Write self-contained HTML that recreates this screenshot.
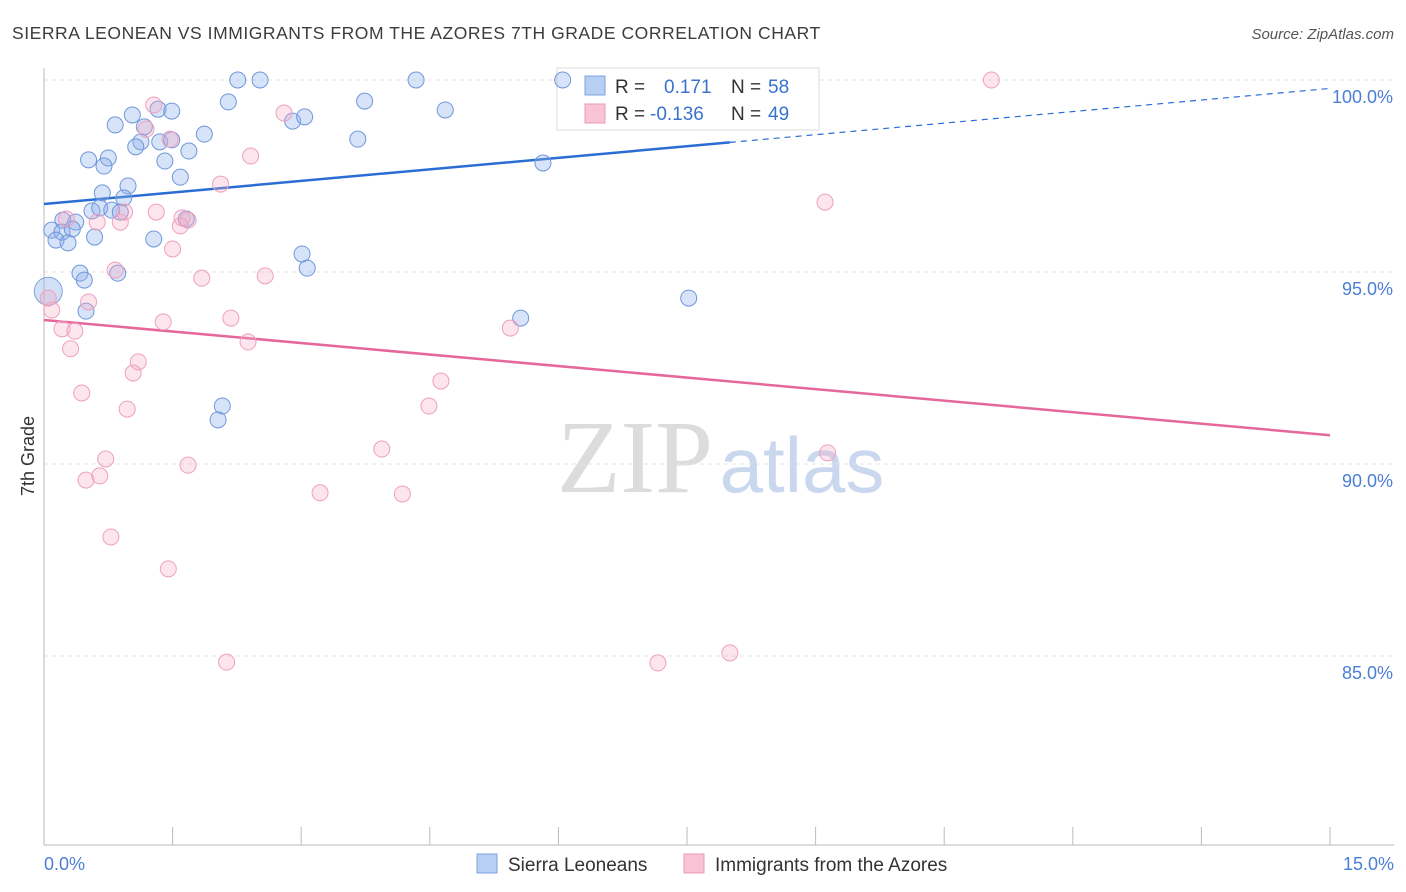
<!DOCTYPE html>
<html><head><meta charset="utf-8">
<style>
body{margin:0;background:#fff;font-family:"Liberation Sans",sans-serif;}
#wrap{position:relative;width:1406px;height:892px;overflow:hidden;}
</style></head>
<body>
<div id="wrap">
<svg id="chart" width="1406" height="892" xmlns="http://www.w3.org/2000/svg">
<text x="12" y="39" font-size="17.5" fill="#3c3c3c" letter-spacing="0.55">SIERRA LEONEAN VS IMMIGRANTS FROM THE AZORES 7TH GRADE CORRELATION CHART</text>
<text x="1394" y="39" font-size="15" fill="#555" font-style="italic" text-anchor="end">Source: ZipAtlas.com</text>
<text x="34" y="456" font-size="18" fill="#333" text-anchor="middle" transform="rotate(-90 34 456)">7th Grade</text>
<g>
<text x="635" y="492" font-size="104" fill="#dcdcdc" font-family="Liberation Serif,serif" text-anchor="middle">ZIP</text>
<text x="802" y="492" font-size="78" fill="#c9d8ef" text-anchor="middle">atlas</text>
</g>
<g id="grid"></g><g id="axes"></g>
<g>
<rect x="557" y="68" width="262" height="62" fill="#fff" stroke="#ddd"/>
<rect x="585" y="76" width="20" height="19" fill="#b7cff3" stroke="#7fa3dd"/>
<rect x="585" y="104" width="20" height="19" fill="#f8c4d5" stroke="#e99ab5"/>
<text x="615" y="93" font-size="19" fill="#333">R = </text><text x="664" y="93" font-size="19" fill="#3a72d0">0.171</text>
<text x="731" y="93" font-size="19" fill="#333">N = </text><text x="768" y="93" font-size="19" fill="#3a72d0">58</text>
<text x="615" y="120" font-size="19" fill="#333">R = </text><text x="650" y="120" font-size="19" fill="#3a72d0">-0.136</text>
<text x="731" y="120" font-size="19" fill="#333">N = </text><text x="768" y="120" font-size="19" fill="#3a72d0">49</text>
</g>
<g id="trends"></g><g id="points"></g>
<g>
<rect x="477" y="854" width="20" height="19" fill="#b7cff3" stroke="#7fa3dd"/>
<text x="508" y="871" font-size="19" fill="#333">Sierra Leoneans</text>
<rect x="684" y="854" width="20" height="19" fill="#f8c4d5" stroke="#e99ab5"/>
<text x="715" y="871" font-size="19" fill="#333">Immigrants from the Azores</text>
</g>
</svg>
</div>
<script>
const blueX=[2.26,2.52,4.34,6.05,2.15,3.74,4.68,1.03,1.33,1.49,0.83,1.17,2.90,3.04,1.87,1.13,1.07,1.35,1.49,3.66,1.69,0.52,0.75,0.70,1.41,5.82,1.59,0.98,0.68,0.93,0.56,0.65,0.79,0.89,1.66,0.22,0.37,0.09,0.21,0.33,0.59,0.14,0.28,1.28,3.01,3.07,0.42,0.47,0.86,7.52,0.49,5.56,2.08,2.03];
const blueY=[100.0,100.0,100.0,100.0,99.43,99.45,99.22,99.09,99.24,99.19,98.83,98.78,98.93,99.04,98.59,98.39,98.26,98.39,98.44,98.46,98.15,97.92,97.97,97.76,97.89,97.84,97.47,97.24,97.06,96.93,96.59,96.67,96.61,96.56,96.38,96.35,96.30,96.09,96.04,96.12,95.91,95.83,95.76,95.86,95.47,95.10,94.97,94.79,94.97,94.32,93.98,93.80,91.51,91.15];
const pinkX=[11.05,1.28,1.47,1.19,2.80,2.41,2.06,1.31,1.68,0.62,0.89,0.26,0.94,1.59,1.50,9.11,0.83,1.84,2.58,0.05,0.52,2.18,1.39,0.21,0.36,5.44,2.38,0.31,1.10,1.04,4.63,0.44,0.97,4.49,3.94,9.14,0.72,1.68,0.65,0.49,3.22,4.18,0.78,1.45,2.13,7.16,8.00,0.09,1.61];
const pinkY=[100.0,99.35,98.46,98.72,99.14,98.02,97.29,96.56,96.35,96.30,96.30,96.38,96.56,96.20,95.60,96.82,95.05,94.84,94.90,94.32,94.22,93.80,93.70,93.52,93.46,93.54,93.18,93.00,92.66,92.37,92.16,91.85,91.43,91.51,90.39,90.29,90.13,89.97,89.69,89.58,89.25,89.22,88.10,87.27,84.84,84.82,85.08,94.01,96.41];
const yTicks=[100,95,90,85];
const yTickLabels=["100.0%","95.0%","90.0%","85.0%"];
const xTickLabels=["0.0%","15.0%"];
const blueTrend=[96.77,99.78];
const pinkTrend=[93.75,90.75];
const blueSolidEnd=8.0;

const NS="http://www.w3.org/2000/svg";
const sx=v=>44+v*(1286/15);
const sy=v=>80+(100-v)*38.4;
function mk(tag,attrs,parent){const e=document.createElementNS(NS,tag);for(const k in attrs)e.setAttribute(k,attrs[k]);parent.appendChild(e);return e;}
const grid=document.getElementById('grid'),axes=document.getElementById('axes'),trends=document.getElementById('trends'),pts=document.getElementById('points');
yTicks.forEach((t,i)=>{
 const l=mk('line',{x1:44,x2:1394,y1:sy(t),y2:sy(t),stroke:'#e4e4e4','stroke-dasharray':'4,4'},grid);
 
 
 const tx=mk('text',{x:1393,y:sy(t)+23,'font-size':18,fill:'#4a7fd6','text-anchor':'end'},axes);
 tx.textContent=yTickLabels[i];
 
 
});
const xa=mk('line',{x1:44,x2:1394,y1:845,y2:845,stroke:'#bbb'},axes);


const ya=mk('line',{x1:44,x2:44,y1:68,y2:845,stroke:'#bbb'},axes);


for(let i=0;i<=10;i++){
 const t=mk('line',{x1:sx(i*1.5),x2:sx(i*1.5),y1:827,y2:845,stroke:'#bbb'},axes);
 
 
}
[[0,'start',44],[15,'end',1394]].forEach((d,i)=>{
 const t=mk('text',{x:d[2],y:870,'font-size':18,fill:'#4a7fd6','text-anchor':d[1]},axes);
 t.textContent=xTickLabels[i];
 
 
});
const bAt=x=>blueTrend[0]+(blueTrend[1]-blueTrend[0])*x/15;
const b1=mk('line',{x1:sx(0),y1:sy(bAt(0)),x2:sx(blueSolidEnd),y2:sy(bAt(blueSolidEnd)),stroke:'#2a6dd4','stroke-width':2.5},trends);


const b2=mk('line',{x1:sx(blueSolidEnd),y1:sy(bAt(blueSolidEnd)),x2:sx(15),y2:sy(bAt(15)),stroke:'#2a6dd4','stroke-width':1.2,'stroke-dasharray':'6,5'},trends);


const p1=mk('line',{x1:sx(0),y1:sy(pinkTrend[0]),x2:sx(15),y2:sy(pinkTrend[1]),stroke:'#e6679a','stroke-width':2.5},trends);


const big=mk('circle',{cx:sx(0.05),cy:sy(94.5),r:14,fill:'rgba(140,175,235,0.4)',stroke:'#7fa3dd'},pts);


blueX.forEach((x,i)=>{
 const c=mk('circle',{cx:sx(x),cy:sy(blueY[i]),r:8,fill:'rgba(140,175,235,0.35)',stroke:'#6f97db','stroke-width':1},pts);
 
 
});
pinkX.forEach((x,i)=>{
 const c=mk('circle',{cx:sx(x),cy:sy(pinkY[i]),r:8,fill:'rgba(245,170,195,0.3)',stroke:'#eea0bd','stroke-width':1},pts);
 
 
});
</script>
</body></html>
